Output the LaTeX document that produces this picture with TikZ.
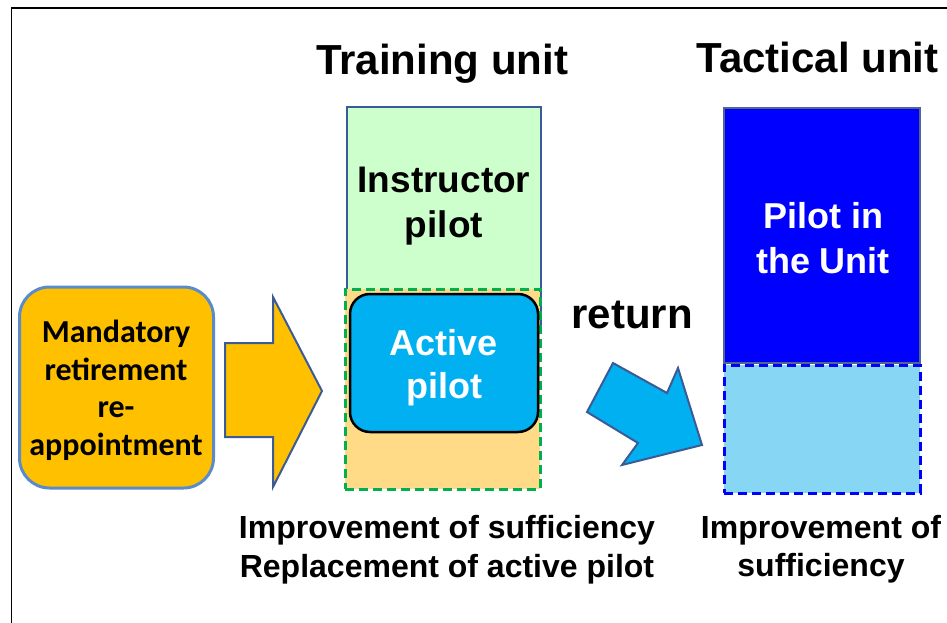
\documentclass[tikz,border=0pt]{standalone}
\usepackage{fontspec}
\setmainfont{Liberation Sans}
\newfontfamily\calib{Carlito}
\usepackage{tikz}
\usetikzlibrary{positioning}
\definecolor{lgreen}{HTML}{CCFFCC}
\definecolor{lorange}{HTML}{FFDB88}
\definecolor{gold}{HTML}{FFC000}
\definecolor{sky}{HTML}{00B0F0}
\definecolor{pale}{HTML}{87D7F4}
\definecolor{edgeblue}{HTML}{3B5B96}
\definecolor{softblue}{HTML}{5B8BC8}
\definecolor{dgreen}{HTML}{00B050}

\begin{document}
\begin{tikzpicture}[x=1pt,y=-1pt,box/.style={draw,minimum width=#1,inner sep=0pt,line width=2pt},txt/.style={anchor=base,align=center,inner sep=0pt,font=\bfseries},arr/.style={draw=edgeblue,line width=2pt,line join=miter}]
\useasboundingbox (0,0) rectangle (947,623);
\draw[line width=1.5pt] (11.5,623) |- (947,8);
\node[box=194pt,minimum height=226pt,draw=edgeblue,fill=lgreen] (instr) at (444,220) {};
\node[box=195pt,minimum height=200pt,draw=dgreen,fill=lorange,line width=3pt,dash pattern=on 9pt off 5pt] (pool) at (442.5,389) {};
\node[box=188pt,minimum height=138pt,fill=sky,rounded corners=20pt,line width=2.5pt] (actv) at (444,363) {};
\node[box=196pt,minimum height=255pt,draw=edgeblue!70!gray,fill=blue] (tact) at (822,235.5) {};
\node[box=196pt,minimum height=128pt,draw=blue,fill=pale,line width=3pt,dash pattern=on 9pt off 5pt] (vac) at (822,429) {};
\node[box=194pt,minimum height=201pt,draw=softblue,fill=gold,rounded corners=30pt,line width=3pt] (retire) at (116.5,387.5) {};
\node[txt,font=\bfseries\fontsize{42}{50}\selectfont] (train) at (442,75) {Training unit};
\node[txt,font=\bfseries\fontsize{42}{50}\selectfont] (tactical) at (817.5,73) {Tactical unit};
\node[txt,font=\bfseries\fontsize{37}{45}\selectfont] (instrtxt) at (444,237) {Instructor\\pilot};
\node[txt,font=\bfseries\fontsize{36}{43}\selectfont,text=white] (actvtxt) at (444,398) {Active\\pilot};
\node[txt,font=\bfseries\fontsize{36}{45}\selectfont,text=white] (tacttxt) at (823,273) {Pilot in\\the Unit};
\node[txt,font=\calib\bfseries\fontsize{32}{37.5}\selectfont] (retiretxt) at (116,455) {Mandatory\\retirement\\re-\\appointment};
\node[txt,font=\bfseries\fontsize{42}{50}\selectfont] (ret) at (632,328) {return};
\node[txt,font=\bfseries\fontsize{32}{39}\selectfont] (trainnote) at (447,577) {Improvement of sufficiency\\Replacement of active pilot};
\node[txt,font=\bfseries\fontsize{32}{38}\selectfont] (tactnote) at (821,576) {Improvement of\\sufficiency};
\draw[arr,fill=gold] (225,343) -- (273,343) -- (273,297) -- (322,391) -- (273,487) -- (273,437) -- (225,437) -- cycle;
\draw[arr,fill=sky] (587,412) -- (613,363) -- (667,393) -- (678,368) -- (702,445) -- (622,465) -- (638,443) -- cycle;
\end{tikzpicture}
\end{document}
